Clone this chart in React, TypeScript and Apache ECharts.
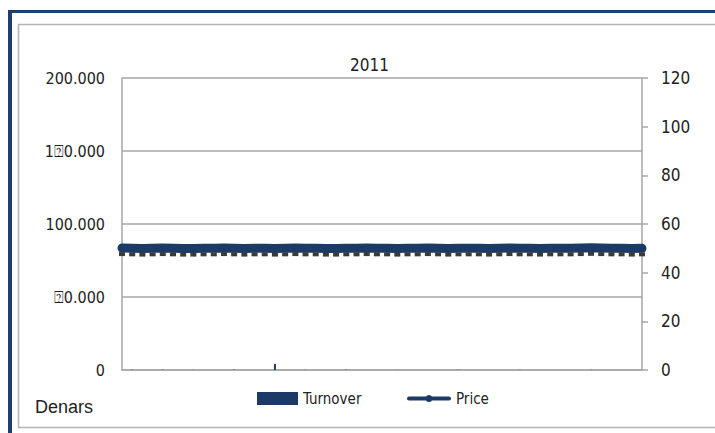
import React, { useEffect, useRef } from "react";
import * as echarts from "echarts";

const weeks = [
  "W1", "W2", "W3", "W4", "W5", "W6", "W7", "W8", "W9", "W10",
  "W11", "W12", "W13", "W14", "W15", "W16", "W17", "W18", "W19", "W20",
  "W21", "W22", "W23", "W24", "W25", "W26", "W27", "W28", "W29", "W30",
  "W31", "W32", "W33", "W34", "W35", "W36", "W37", "W38", "W39", "W40",
  "W41", "W42", "W43", "W44", "W45", "W46", "W47", "W48", "W49", "W50",
  "W51", "W52",
];

const turnover = [
  0, 150, 0, 0, 200, 0, 0, 100, 0, 0,
  0, 250, 0, 0, 0, 4200, 0, 0, 120, 0,
  0, 0, 180, 0, 0, 0, 0, 90, 0, 0,
  0, 0, 0, 160, 0, 0, 0, 0, 0, 110,
  0, 0, 0, 0, 0, 0, 140, 0, 0, 0,
  0, 0,
];

const price = [
  50.1, 50.0, 49.9, 50.0, 50.1, 50.0, 49.9, 49.9, 50.0, 50.0,
  50.1, 50.0, 49.9, 50.0, 50.0, 49.9, 50.0, 50.1, 50.0, 50.0,
  49.9, 49.9, 50.0, 50.0, 50.1, 50.0, 50.0, 49.9, 50.0, 50.0,
  50.1, 50.0, 49.9, 50.0, 50.0, 50.0, 49.9, 50.0, 50.1, 50.0,
  50.0, 49.9, 50.0, 50.0, 50.0, 50.1, 50.2, 50.1, 50.0, 50.0,
  49.9, 50.0,
];

const leftTickValues = [0, 50000, 100000, 150000, 200000];
const leftTickLabels = ["0", "\u23700.000", "100.000", "1\u23700.000", "200.000"];

const NARROW = "'Liberation Sans Narrow', 'DejaVu Sans Condensed', sans-serif";
const NAVY = "#1c3a66";
const GRID = "#a6a6a6";
const TEXT = "#222222";

export default function App() {
  const ref = useRef<HTMLDivElement>(null);

  useEffect(() => {
    if (!ref.current) return;
    const chart = echarts.init(ref.current, undefined, { renderer: "svg" });
    const pricePath =
      "path://M2,3 H19 A3.6,3.6 0 0 1 25,3 H42 A2,2 0 0 1 42,7 H25 A3.6,3.6 0 0 1 19,7 H2 A2,2 0 0 1 2,3 Z";
    chart.setOption({
      animation: false,
      backgroundColor: "#ffffff",
      title: {
        text: "2011",
        left: 350,
        top: 56,
        padding: 0,
        textStyle: { fontFamily: NARROW, fontSize: 17, fontWeight: "normal", color: TEXT },
      },
      legend: [
        {
          data: [{ name: "Turnover", icon: "rect", itemStyle: { color: NAVY } }],
          left: 257,
          top: 391,
          padding: 0,
          itemWidth: 41,
          itemHeight: 13,
          itemGap: 0,
          textStyle: { fontFamily: NARROW, fontSize: 15, color: TEXT, padding: [3, 0, 0, 0] },
        },
        {
          data: [{ name: "Price", icon: pricePath, itemStyle: { color: NAVY } }],
          left: 407,
          top: 391,
          padding: 0,
          itemWidth: 44,
          itemHeight: 13,
          itemGap: 0,
          textStyle: { fontFamily: NARROW, fontSize: 15, color: TEXT, padding: [3, 0, 0, 0] },
        },
      ],
      grid: { left: 122, right: 73, top: 78, bottom: 63 },
      xAxis: {
        type: "category",
        data: weeks,
        boundaryGap: false,
        axisLine: { show: true, lineStyle: { color: GRID, width: 1.5 } },
        axisTick: { show: false },
        axisLabel: { show: false },
        splitLine: { show: false },
      },
      yAxis: [
        {
          type: "value",
          min: 0,
          max: 200000,
          interval: 50000,
          position: "left",
          axisLine: { show: true, lineStyle: { color: GRID, width: 1.5 } },
          axisTick: { show: false },
          splitLine: { show: true, lineStyle: { color: GRID, width: 1.5 } },
          axisLabel: {
            margin: 17,
            fontFamily: NARROW,
            fontSize: 16,
            color: TEXT,
            formatter: (v: number) => {
              const i = leftTickValues.indexOf(v);
              return i >= 0 ? leftTickLabels[i] : "";
            },
          },
        },
        {
          type: "value",
          min: 0,
          max: 120,
          interval: 20,
          position: "right",
          axisLine: { show: true, lineStyle: { color: GRID, width: 1.5 } },
          axisTick: { show: true, inside: false, length: 6, lineStyle: { color: GRID, width: 1.5 } },
          splitLine: { show: false },
          axisLabel: { margin: 19, fontFamily: NARROW, fontSize: 17, color: TEXT },
        },
      ],
      graphic: [
        {
          type: "rect",
          silent: true,
          z: -1,
          shape: { x: 18.5, y: 24.5, width: 720, height: 403 },
          style: { fill: "none", stroke: "#b4b4b4", lineWidth: 1.5 },
        },
        {
          type: "rect",
          silent: true,
          shape: { x: 8, y: 10, width: 710, height: 3 },
          style: { fill: "#1f3f6e" },
        },
        {
          type: "rect",
          silent: true,
          shape: { x: 8, y: 10, width: 4, height: 430 },
          style: { fill: "#1f3f6e" },
        },
        {
          type: "text",
          silent: true,
          style: {
            text: "Denars",
            x: 35,
            y: 407,
            textVerticalAlign: "middle",
            fontFamily: "'Liberation Sans', sans-serif",
            fontSize: 18,
            fill: TEXT,
          },
        },
      ],
      series: [
        {
          name: "Turnover",
          type: "bar",
          yAxisIndex: 0,
          data: turnover,
          barWidth: 2,
          itemStyle: { color: NAVY },
        },
        {
          name: "Price",
          type: "line",
          yAxisIndex: 1,
          data: price,
          showAllSymbol: true,
          symbol: "rect",
          symbolSize: [6, 4],
          symbolOffset: [0, 6],
          itemStyle: { color: "#3a3a3a" },
          lineStyle: {
            color: NAVY,
            width: 9,
            cap: "round",
          },
          z: 3,
        },
      ],
    });
    return () => chart.dispose();
  }, []);

  return (
    <div
      ref={ref}
      style={{ position: "fixed", left: 0, top: 0, width: 715, height: 433 }}
    />
  );
}
